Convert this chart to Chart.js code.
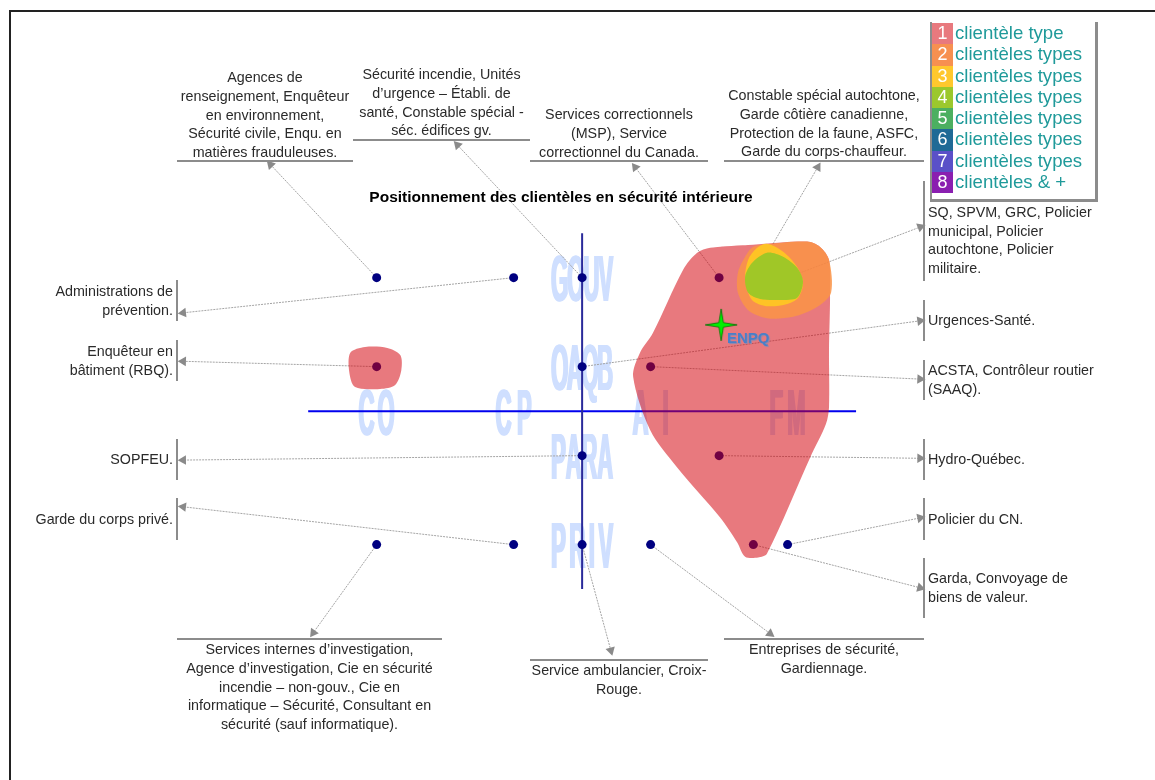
<!DOCTYPE html>
<html>
<head>
<meta charset="UTF-8">
<title>Positionnement des clientèles en sécurité intérieure</title>
<script src="https://cdn.jsdelivr.net/npm/chart.js@4"></script>
<style>
body { margin: 0; background: #fff; }
#page { position: relative; width: 1155px; height: 780px; overflow: hidden; font-family: "Liberation Sans", Arial, sans-serif; }
#chart { position: absolute; left: 0; top: 0; }
#frame { position: absolute; left: 9px; top: 10px; width: 1146px; height: 770px; box-sizing: border-box; border-top: 2px solid #222; border-left: 2px solid #222; }
#title { position: absolute; left: 300px; width: 522px; top: 188px; text-align: center; font-weight: bold; font-size: 15.5px; line-height: 18px; color: #000; white-space: nowrap; }
.c { position: absolute; box-sizing: border-box; font-size: 14.3px; line-height: 18.8px; color: #2a2a2a; text-align: center; border: 0 solid #8c8c8c; white-space: nowrap; }
.t { border-bottom-width: 2px; }
.b { border-top-width: 2px; }
.l, .r { display: flex; align-items: center; }
.l { left: 20px; width: 158px; justify-content: flex-end; text-align: right; border-right-width: 2px; padding-right: 3px; }
.r { left: 923px; width: 190px; text-align: left; border-left-width: 2px; padding-left: 3px; }
#enpq { position: absolute; left: 727px; top: 330px; font-weight: bold; font-size: 15px; line-height: 16px; color: #4a7fc8; text-shadow: 1px 1px 1px #8a8ab0; }
#legend { position: absolute; left: 930px; top: 22px; width: 168px; height: 180px; box-sizing: border-box; border-left: 2px solid #8c8c8c; border-right: 3px solid #8c8c8c; border-bottom: 3px solid #8c8c8c; }
#legend div { height: 21.3px; line-height: 21.3px; font-size: 18.6px; color: #1f9a9a; white-space: nowrap; }
#legend b { display: inline-block; width: 21px; margin-right: 2px; text-align: center; font-weight: normal; color: #fff; font-size: 18px; }
</style>
</head>
<body>
<div id="page">
    <canvas id="chart" width="1155" height="780"></canvas>
    <div id="frame"></div>
    <div id="title">Positionnement des clientèles en sécurité intérieure</div>

    <div class="c t" style="left:177px;width:176px;top:68px;height:94px">Agences de<br>renseignement, Enquêteur<br>en environnement,<br>Sécurité civile, Enqu. en<br>matières frauduleuses.</div>
    <div class="c t" style="left:353px;width:177px;top:65px;height:76px">Sécurité incendie, Unités<br>d’urgence – Établi. de<br>santé, Constable spécial -<br>séc. édifices gv.</div>
    <div class="c t" style="left:530px;width:178px;top:105px;height:57px">Services correctionnels<br>(MSP), Service<br>correctionnel du Canada.</div>
    <div class="c t" style="left:724px;width:200px;top:86px;height:76px">Constable spécial autochtone,<br>Garde côtière canadienne,<br>Protection de la faune, ASFC,<br>Garde du corps-chauffeur.</div>

    <div class="c l" style="top:280px;height:41px"><span>Administrations de<br>prévention.</span></div>
    <div class="c l" style="top:340px;height:41px"><span>Enquêteur en<br>bâtiment (RBQ).</span></div>
    <div class="c l" style="top:439px;height:41px"><span>SOPFEU.</span></div>
    <div class="c l" style="top:498px;height:42px"><span>Garde du corps privé.</span></div>

    <div class="c r" style="top:181px;height:100px;align-items:flex-end;padding-bottom:3px"><span>SQ, SPVM, GRC, Policier<br>municipal, Policier<br>autochtone, Policier<br>militaire.</span></div>
    <div class="c r" style="top:300px;height:41px"><span>Urgences-Santé.</span></div>
    <div class="c r" style="top:360px;height:40px"><span>ACSTA, Contrôleur routier<br>(SAAQ).</span></div>
    <div class="c r" style="top:439px;height:41px"><span>Hydro-Québec.</span></div>
    <div class="c r" style="top:498px;height:42px"><span>Policier du CN.</span></div>
    <div class="c r" style="top:558px;height:60px"><span>Garda, Convoyage de<br>biens de valeur.</span></div>

    <div class="c b" style="left:177px;width:265px;top:638px">Services internes d’investigation,<br>Agence d’investigation, Cie en sécurité<br>incendie – non-gouv., Cie en<br>informatique – Sécurité, Consultant en<br>sécurité (sauf informatique).</div>
    <div class="c b" style="left:530px;width:178px;top:659px">Service ambulancier, Croix-<br>Rouge.</div>
    <div class="c b" style="left:724px;width:200px;top:638px">Entreprises de sécurité,<br>Gardiennage.</div>

    <div id="enpq">ENPQ</div>
    <div id="legend"></div>
</div>

<script type="text/javascript">
// axes : les deux droites de la matrice
var axisRangeX = [-8, 8];
var axisRangeY = [-4, 4];
var xLabels = ["CO", "CP", "AI", "FM"];
var xLabelPos = [-6, -2, 2, 6];
var yLabels = ["GOUV", "OAQB", "PARA", "PRIV"];
var yLabelPos = [3, 1, -1, -3];

// clientèles : point de la matrice -> pointe de flèche vers son libellé
var dotX = [-6, 0, 4, 5, 6, -2, 0, 2, -6, 0, 4, 6, 5, -2, -6, 0, 2];
var dotY = [3, 3, 3, 3, 3, 3, 1, 1, 1, -1, -1, -3, -3, -3, -3, -3, -3];
var tipX = [-9.10, -3.64, 1.55, 6.88, 9.88, -11.65, 9.87, 9.87, -11.65, -11.65, 9.87, 9.87, 9.87, -11.65, -7.85, 0.84, 5.49];
var tipY = [5.54, 5.98, 5.48, 5.48, 4.14, 2.21, 2.03, 0.72, 1.12, -1.10, -1.06, -2.40, -3.97, -2.15, -4.98, -5.38, -5.00];

// ENPQ
var starX = [4.06];
var starY = [1.94];

// zones par nombre de clientèles types
var zone1X = [4.99, 6.57, 6.95, 7.21, 7.24, 7.21, 7.21, 7.12, 6.66, 5.40, 5.14, 4.76, 4.53, 4.03, 2.77, 1.99, 1.49, 1.69, 2.07, 2.95, 3.36, 3.74, 4.99];
var zone1Y = [3.74, 3.81, 3.69, 3.40, 2.57, 1.37, 0.09, -0.29, -1.04, -3.20, -3.29, -3.27, -2.95, -2.39, -1.26, -0.43, 0.77, 1.31, 1.76, 3.18, 3.56, 3.67, 3.74];
var zone1bX = [-6.34, -5.69, -5.31, -5.28, -5.46, -5.90, -6.63, -6.80, -6.77, -6.34];
var zone1bY = [1.44, 1.42, 1.26, 0.92, 0.59, 0.50, 0.54, 0.88, 1.31, 1.44];
var zone2X = [5.40, 6.57, 6.95, 7.21, 7.27, 6.86, 6.16, 5.40, 4.85, 4.55, 4.55, 4.76, 4.99, 5.40];
var zone2Y = [3.75, 3.81, 3.69, 3.40, 2.66, 2.34, 2.12, 2.09, 2.27, 2.66, 3.11, 3.47, 3.69, 3.75];
var zone3X = [5.40, 5.87, 6.28, 6.45, 6.31, 5.99, 5.40, 4.96, 4.76, 4.85, 5.11, 5.40];
var zone3Y = [3.76, 3.58, 3.24, 2.88, 2.55, 2.41, 2.36, 2.50, 2.95, 3.40, 3.67, 3.76];
var zone4X = [5.40, 5.87, 6.28, 6.45, 6.28, 5.78, 5.20, 4.85, 4.76, 4.96, 5.40];
var zone4Y = [3.56, 3.47, 3.22, 2.91, 2.55, 2.50, 2.52, 2.66, 3.02, 3.33, 3.56];

// légende
var legendNumbers = ["1", "2", "3", "4", "5", "6", "7", "8"];
var legendLabels = ["clientèle type", "clientèles types", "clientèles types", "clientèles types", "clientèles types", "clientèles types", "clientèles types", "clientèles & +"];
var legendColors = ["#e8797e", "#f79050", "#ffc82d", "#9bc82d", "#4caf60", "#1f6a96", "#5a50c8", "#8a1fb0"];

function toPoints(xs, ys) {
    return xs.map(function (x, i) { return { x: x, y: ys[i] }; });
}

function zone(xs, ys, color, order) {
    // contour ferme : on reprend un point de chaque cote pour que la courbe ne casse pas a la jointure
    var pts = toPoints(xs, ys);
    var data = [pts[pts.length - 2]].concat(pts, [pts[1]]);
    return {
        data: data,
        showLine: true,
        fill: 'shape',
        backgroundColor: color,
        borderWidth: 0,
        borderColor: 'transparent',
        pointRadius: 0,
        tension: 0.3,
        capBezierPoints: false,
        order: order,
        clip: false
    };
}

function axisLine(xs, ys, color) {
    return { data: toPoints(xs, ys), showLine: true, borderColor: color, borderWidth: 2, pointRadius: 0, order: 50, clip: false };
}

function arrow(i) {
    return {
        data: [{ x: dotX[i], y: dotY[i] }, { x: tipX[i], y: tipY[i] }],
        showLine: true,
        borderColor: '#a4a4a4',
        borderWidth: 1,
        borderDash: [2, 1],
        pointStyle: 'triangle',
        pointRadius: [0, 5.5],
        pointBorderWidth: 0,
        pointBackgroundColor: '#8a8a8a',
        pointRotation: function (ctx) {
            var sx = ctx.chart.scales.x, sy = ctx.chart.scales.y;
            var dx = sx.getPixelForValue(tipX[i]) - sx.getPixelForValue(dotX[i]);
            var dy = sy.getPixelForValue(tipY[i]) - sy.getPixelForValue(dotY[i]);
            return Math.atan2(dy, dx) * 180 / Math.PI + 90;
        },
        order: 40,
        clip: false
    };
}

// etoile verte a 4 branches de l'ENPQ
function makeStar() {
    var c = document.createElement('canvas');
    c.width = 36; c.height = 36;
    var g = c.getContext('2d');
    g.translate(18, 18);
    g.beginPath();
    for (var i = 0; i < 8; i++) {
        var r = i % 2 ? 3.2 : 16;
        var a = i * Math.PI / 4 - Math.PI / 2;
        g[i ? 'lineTo' : 'moveTo'](r * Math.cos(a), r * Math.sin(a));
    }
    g.closePath();
    g.fillStyle = '#00f000';
    g.strokeStyle = '#007000';
    g.lineWidth = 0.8;
    g.fill();
    g.stroke();
    return c;
}

// grandes lettres pales, etirees en hauteur, sous les zones
var paleLabels = {
    id: 'paleLabels',
    beforeDatasetsDraw: function (chart) {
        var ctx = chart.ctx, sx = chart.scales.x, sy = chart.scales.y;
        function put(text, px, py) {
            var target = text.length > 2 ? 62 : 36;
            ctx.save();
            ctx.translate(px, py);
            ctx.font = 'bold 22px "Liberation Sans"';
            ctx.textAlign = 'left';
            ctx.fillStyle = '#cfdfff';
            var widths = text.split('').map(function (ch) { return ctx.measureText(ch).width; });
            var sum = widths.reduce(function (a, b) { return a + b; }, 0);
            var gap = (target - sum) / (text.length - 1);
            var cx = -target / 2;
            for (var n = 0; n < text.length; n++) {
                // on repasse la lettre pour l'epaissir
                for (var o = -0.8; o <= 0.8; o += 0.8) {
                    ctx.save();
                    ctx.translate(cx + o, 0);
                    ctx.scale(1, 2.95);
                    ctx.fillText(text[n], 0, 8);
                    ctx.restore();
                }
                cx += widths[n] + gap;
            }
            ctx.restore();
        }
        xLabels.forEach(function (t, i) { put(t, sx.getPixelForValue(xLabelPos[i]), sy.getPixelForValue(0)); });
        yLabels.forEach(function (t, i) { put(t, sx.getPixelForValue(0), sy.getPixelForValue(yLabelPos[i])); });
    }
};

window.onload = function () {
    var html = '';
    for (var i = 0; i < legendLabels.length; i++) {
        html += '<div><b style="background:' + legendColors[i] + '">' + legendNumbers[i] + '</b>' + legendLabels[i] + '</div>';
    }
    document.getElementById('legend').innerHTML = html;

    var datasets = [
        axisLine([0, 0], axisRangeY, '#2a2a9a'),
        axisLine(axisRangeX, [0, 0], '#0000ee')
    ];
    for (var k = 0; k < dotX.length; k++) {
        datasets.push(arrow(k));
    }
    datasets.push({
        data: toPoints(dotX, dotY),
        showLine: false,
        pointRadius: 4.5,
        pointBorderWidth: 0,
        pointBackgroundColor: '#000080',
        order: 30,
        clip: false
    });
    datasets.push(zone(zone1X, zone1Y, 'rgba(211,2,11,.53)', 5));
    datasets.push(zone(zone1bX, zone1bY, 'rgba(211,2,11,.53)', 5));
    datasets.push(zone(zone2X, zone2Y, 'rgba(250,148,70,.85)', 4));
    datasets.push(zone(zone3X, zone3Y, 'rgba(255,205,30,.85)', 3));
    datasets.push(zone(zone4X, zone4Y, 'rgba(150,200,40,.9)', 2));
    datasets.push({
        data: toPoints(starX, starY),
        showLine: false,
        pointStyle: makeStar(),
        order: 0,
        clip: false
    });

    new Chart(document.getElementById('chart').getContext('2d'), {
        type: 'scatter',
        data: { datasets: datasets },
        plugins: [paleLabels],
        options: {
            responsive: false,
            animation: false,
            events: [],
            layout: { autoPadding: false },
            plugins: { legend: { display: false }, tooltip: { enabled: false } },
            scales: {
                x: { type: 'linear', display: false, min: -17, max: 16.73 },
                y: { type: 'linear', display: false, min: -8.29, max: 9.24 }
            }
        }
    });
};
</script>
</body>
</html>
